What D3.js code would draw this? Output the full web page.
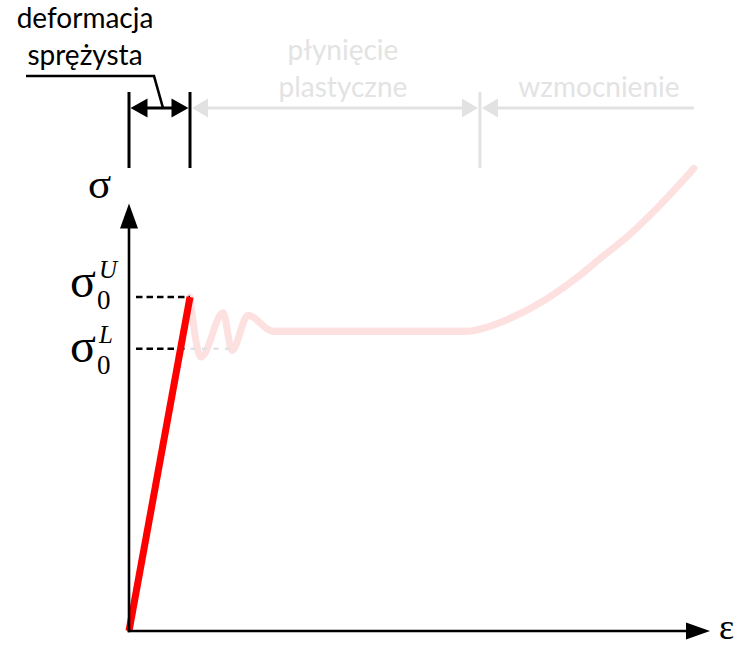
<!DOCTYPE html>
<html>
<head>
<meta charset="utf-8">
<script src="https://cdn.jsdelivr.net/npm/d3@7"></script>
<style>
  html, body { margin: 0; padding: 0; background: #fff; }
  svg { display: block; }
</style>
</head>
<body>
<script>
// Stress–strain diagram of a tensile test with a yield plateau.
// ε and σ are in arbitrary units; the curve is a qualitative sketch.
const strainAxisMax = 50;
const stressAxisMax = 512;

// elastic branch (drawn solid red)
const elasticStrain = [0, 5.25];
const elasticStress = [0, 400];

// yield oscillation and plastic flow plateau (faded)
const yieldStrain = [5.25, 6.2, 8.1, 8.86, 10.24, 12.39, 29.1];
const yieldCurveStress = [400, 328, 381, 336, 378, 359, 359];

// strain hardening (faded), starting on the plateau
const hardStrain = [12.39, 29.1, 31.08, 33.05, 35.97, 38.81, 40.53, 42.86, 45.70, 48.62];
const hardStress = [359, 359, 365, 376, 398, 426, 446, 472, 510, 554];

// upper and lower yield stress
const yieldStress = [400, 338];
const yieldNames = ["U", "L"];
const yieldDashEnd = [5.25, 8.86];

// zones marked above the diagram
const zoneBounds = [0, 5.25, 30.2, 48.62];
const zoneLabels = [["deformacja", "sprężysta"], ["płynięcie", "plastyczne"], ["wzmocnienie"]];

const W = 737, H = 647;
const svg = d3.select("body").append("svg").attr("width", W).attr("height", H);

const x = d3.scaleLinear().domain([0, strainAxisMax]).range([129, 710]);
const y = d3.scaleLinear().domain([0, 400]).range([631, 297]);

const BLACK = "#000", GREY = "#e2e2e2", PINK = "#fde0e0", RED = "#ff0000";
const sans = "Lato, 'Open Sans', sans-serif";
const serif = "'Liberation Serif', 'DejaVu Serif', serif";

function arrowHead(g, tipX, tipY, dir, len, half, color) {
  // dir: unit vector the arrow points to
  const [dx, dy] = dir;
  const bx = tipX - dx * len, by = tipY - dy * len;
  const px = -dy * half, py = dx * half;
  g.append("path")
    .attr("d", `M${tipX},${tipY}L${bx + px},${by + py}L${bx - px},${by - py}Z`)
    .attr("fill", color);
}

function fadedCurve(strain, stress, curve) {
  const pts = strain.map((e, i) => [x(e), y(stress[i])]);
  svg.append("path")
    .attr("d", d3.line().curve(curve)(pts))
    .attr("fill", "none").attr("stroke", PINK).attr("stroke-width", 7)
    .attr("stroke-linecap", "round").attr("stroke-linejoin", "round");
}

// ---- faded part of the curve
fadedCurve(hardStrain, hardStress, d3.curveMonotoneX);
fadedCurve(yieldStrain, yieldCurveStress, d3.curveMonotoneX);

// ---- yield stress dashed guides
yieldStress.forEach((s, i) => {
  const yy = y(s);
  const eCross = elasticStrain[1] * s / elasticStress[1];
  const xBlackEnd = Math.min(x(yieldDashEnd[i]), x(eCross) + 4);
  svg.append("line")
    .attr("x1", x(0) + 7).attr("x2", xBlackEnd).attr("y1", yy).attr("y2", yy)
    .attr("stroke", BLACK).attr("stroke-width", 2.5).attr("stroke-dasharray", "6.5,4");
  if (x(yieldDashEnd[i]) > xBlackEnd + 2) {
    svg.append("line")
      .attr("x1", xBlackEnd + 6).attr("x2", x(yieldDashEnd[i])).attr("y1", yy).attr("y2", yy)
      .attr("stroke", GREY).attr("stroke-width", 2.5).attr("stroke-dasharray", "5,6.5");
  }
});

// ---- elastic branch
svg.append("path")
  .attr("d", d3.line()(elasticStrain.map((e, i) => [x(e), y(elasticStress[i])])))
  .attr("fill", "none").attr("stroke", RED).attr("stroke-width", 7)
  .attr("stroke-linecap", "butt");

// ---- axes with arrow heads
const axes = svg.append("g");
const yTop = y(stressAxisMax), xEnd = x(strainAxisMax);
axes.append("line").attr("x1", x(0)).attr("x2", x(0)).attr("y1", y(0) + 1.3).attr("y2", yTop + 20)
  .attr("stroke", BLACK).attr("stroke-width", 2.6);
arrowHead(axes, x(0), yTop, [0, -1], 25, 9, BLACK);
axes.append("line").attr("x1", x(0) - 1.3).attr("x2", xEnd - 20).attr("y1", y(0)).attr("y2", y(0))
  .attr("stroke", BLACK).attr("stroke-width", 2.6);
arrowHead(axes, xEnd, y(0), [1, 0], 24, 8.5, BLACK);

axes.append("text").attr("x", 88).attr("y", 198)
  .attr("font-family", serif).attr("font-size", 43).text("σ");
axes.append("text").attr("x", 719).attr("y", 639)
  .attr("font-family", serif).attr("font-size", 36).text("ε");

// ---- yield labels σ0^U, σ0^L
const labelBase = [297, 362];
yieldNames.forEach((n, i) => {
  const b = labelBase[i];
  axes.append("text").attr("x", 70).attr("y", b)
    .attr("font-family", serif).attr("font-size", 48).text("σ");
  axes.append("text").attr("x", 97).attr("y", b + 12)
    .attr("font-family", serif).attr("font-size", 27).text("0");
  axes.append("text").attr("x", 99).attr("y", b - 19)
    .attr("font-family", serif).attr("font-size", 25).attr("font-style", "italic").text(n);
});

// ---- zone markers above the diagram
const zones = svg.append("g");
const markY = 108, markTop = 92, markBot = 168;
zoneBounds.slice(0, 3).forEach((e, i) => {
  const c = i < 2 ? BLACK : GREY;
  zones.append("line").attr("x1", x(e)).attr("x2", x(e)).attr("y1", markTop).attr("y2", markBot)
    .attr("stroke", c).attr("stroke-width", 3);
});

// elastic zone: black double arrow
const e0 = x(zoneBounds[0]), e1 = x(zoneBounds[1]), e2 = x(zoneBounds[2]), e3 = x(zoneBounds[3]);
zones.append("line").attr("x1", e0 + 10).attr("x2", e1 - 10).attr("y1", markY).attr("y2", markY)
  .attr("stroke", BLACK).attr("stroke-width", 3);
arrowHead(zones, e0 + 1.5, markY, [-1, 0], 17, 9.5, BLACK);
arrowHead(zones, e1 - 1.5, markY, [1, 0], 17, 9.5, BLACK);

// plastic flow zone: grey double arrow
zones.append("line").attr("x1", e1 + 10).attr("x2", e2 - 10).attr("y1", markY).attr("y2", markY)
  .attr("stroke", GREY).attr("stroke-width", 3);
arrowHead(zones, e1 + 2, markY, [-1, 0], 16, 9.5, GREY);
arrowHead(zones, e2 - 2, markY, [1, 0], 16, 9.5, GREY);

// hardening zone: grey arrow open to the right
zones.append("line").attr("x1", e2 + 10).attr("x2", e3).attr("y1", markY).attr("y2", markY)
  .attr("stroke", GREY).attr("stroke-width", 3);
arrowHead(zones, e2 + 2, markY, [-1, 0], 16, 9.5, GREY);

// zone labels
const labelX = [85, (e1 + e2) / 2 + 8, (e2 + e3) / 2 + 12];
const labelY = [[28, 65], [60, 97], [97]];
zoneLabels.forEach((lines, i) => {
  lines.forEach((t, j) => {
    zones.append("text").attr("x", labelX[i]).attr("y", labelY[i][j])
      .attr("text-anchor", "middle").attr("font-family", sans).attr("font-size", 28)
      .attr("fill", i === 0 ? BLACK : "#e3e3e3").text(t);
  });
});

// leader from the elastic label to its arrow
zones.append("path")
  .attr("d", d3.line()([[26, 76], [154, 76], [163, markY]]))
  .attr("fill", "none").attr("stroke", BLACK).attr("stroke-width", 2.6);
</script>
</body>
</html>
